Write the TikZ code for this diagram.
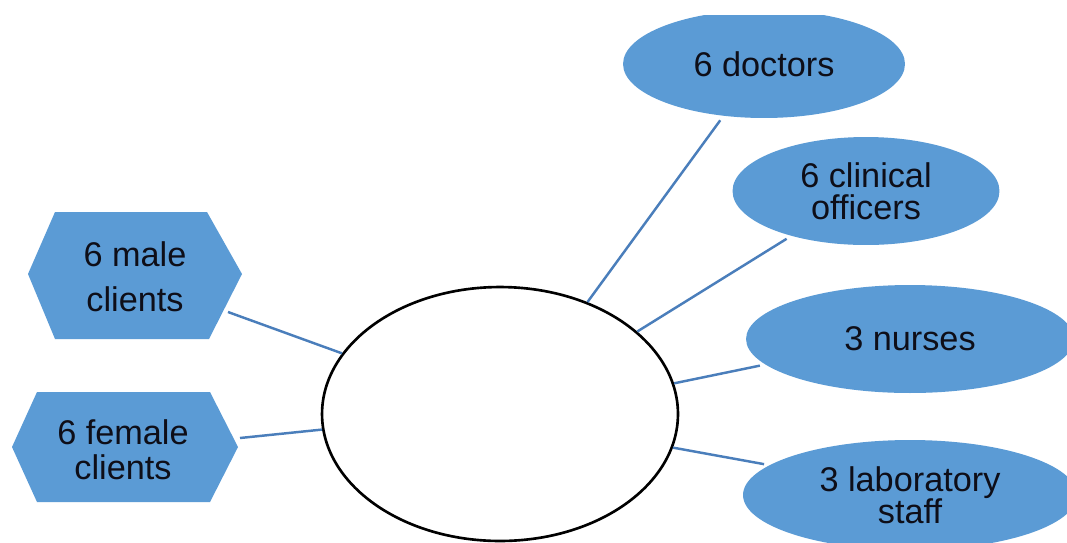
\documentclass[tikz,border=0pt]{standalone}
\usepackage{fontspec}
\setmainfont{Liberation Sans}
\usetikzlibrary{shapes.geometric}
\definecolor{satfill}{HTML}{5B9BD5}
\definecolor{linkcol}{HTML}{4A7EBB}
\definecolor{txtcol}{HTML}{0E0E18}
\tikzset{
  sat/.style={ellipse, fill=satfill, inner sep=0pt, align=center, text=txtcol,
    font=\fontsize{19.5}{18.5}\selectfont},
  hextext/.style={inner sep=0pt, align=center, text=txtcol},
  hexfill/.style={fill=satfill},
  hub/.style={ellipse, draw=black, line width=1.5pt, fill=white, inner sep=0pt},
  link/.style={draw=linkcol, line width=1.4pt}
}
\begin{document}
\begin{tikzpicture}[x=0.02cm, y=-0.02cm]
\useasboundingbox (0,0) rectangle (1067,542);
\clip (0,0) rectangle (1067,542);
\fill[white] (0,0) rectangle (1067,542);
% hexagons
\fill[hexfill] (28,274) -- (55,212) -- (207,212) -- (242,274) -- (209,339) -- (55,339) -- cycle;
\fill[hexfill] (12,447) -- (37,392) -- (210,392) -- (238,447) -- (210,502) -- (37,502) -- cycle;
\node[hextext, font=\fontsize{19.5}{25.5}\selectfont] (male) at (135,277) {6 male\\clients};
\node[hextext, font=\fontsize{19.5}{20}\selectfont] (female) at (123,450) {6 female\\clients};
\coordinate (maleEnd) at (228,312);
\coordinate (femaleEnd) at (240,438);
% hub
\node[hub, minimum width=7.12cm, minimum height=5.08cm] (hub) at (500,414) {};
% satellites
\begin{scope}
\clip (0,15) rectangle (1067,542);
\node[sat, minimum width=5.64cm, minimum height=2.16cm] (doctors) at (764,64) {6 doctors};
\end{scope}
\node[sat, minimum width=5.34cm, minimum height=2.16cm] (clinical) at (866,191) {6 clinical\\officers};
\node[sat, minimum width=6.56cm, minimum height=2.16cm] (nurses) at (910,339) {3 nurses};
\node[sat, minimum width=6.68cm, minimum height=2.2cm] (lab) at (910,495) {3 laboratory\\staff};
% connectors
\draw[link, shorten <=3pt] (doctors.232.6) -- (hub.52.8);
\draw[link, shorten <=3pt] (clinical.211.1) -- (hub.31.7);
\draw[link, shorten <=3pt] (nurses.190.8) -- (hub.10);
\draw[link, shorten <=3pt] (lab.168.8) -- (hub.-11.6);
\draw[link] (maleEnd) -- (hub.159);
\draw[link] (femaleEnd) -- (hub.185.7);
\end{tikzpicture}
\end{document}
